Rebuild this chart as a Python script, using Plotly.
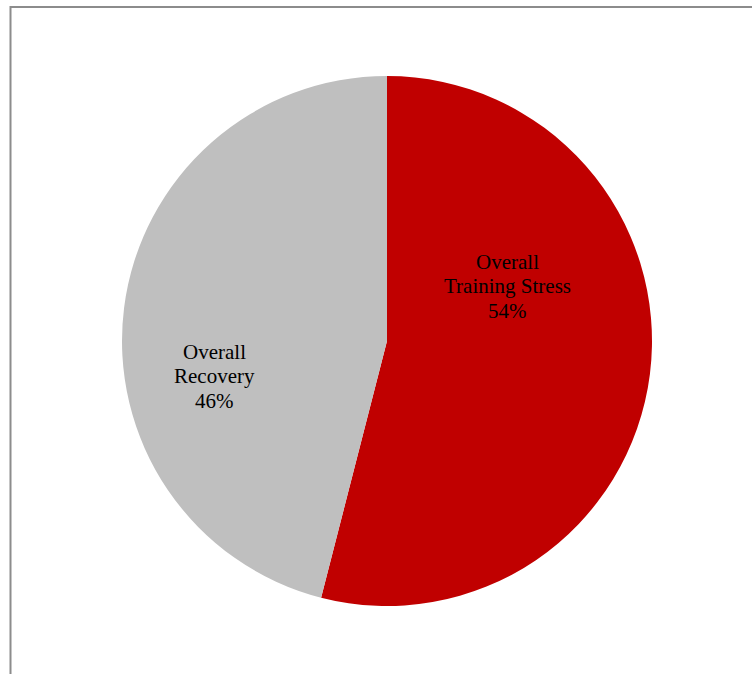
import plotly.graph_objects as go

labels = ["Overall<br>Training Stress", "Overall<br>Recovery"]
values = [54, 46]
colors = ["#C00000", "#BFBFBF"]

W, H = 752, 674
cx, cy, r = 387, 341, 265

fig = go.Figure(go.Pie(
    labels=labels,
    values=values,
    sort=False,
    direction="clockwise",
    rotation=0,
    marker=dict(colors=colors, line=dict(width=0)),
    textinfo="none",
    hoverinfo="skip",
    showlegend=False,
    domain=dict(x=[(cx - r) / W, (cx + r) / W], y=[(H - cy - r) / H, (H - cy + r) / H]),
))

# label placement (pixel centres of first line) and line spacing
label_pos = [(507, 262), (214, 352)]
line_gap = 24.3
total = sum(values)
for lab, val, (px, py) in zip(labels, values, label_pos):
    lines = lab.split("<br>") + [f"{round(val / total * 100)}%"]
    for i, t in enumerate(lines):
        fig.add_annotation(
            x=px / W, y=1 - (py + i * line_gap) / H, xref="paper", yref="paper",
            text=t, showarrow=False, xanchor="center", yanchor="middle",
            font=dict(family="Liberation Serif", size=21, color="black"),
        )

fig.add_shape(type="rect", xref="paper", yref="paper",
              x0=10.5 / W, x1=1.02, y0=-0.02, y1=1 - 7 / H,
              line=dict(color="#8C8C8C", width=2), fillcolor="rgba(0,0,0,0)")

fig.update_layout(width=W, height=H, margin=dict(l=0, r=0, t=0, b=0),
                  paper_bgcolor="white", plot_bgcolor="white")
fig.write_html("out.html")
